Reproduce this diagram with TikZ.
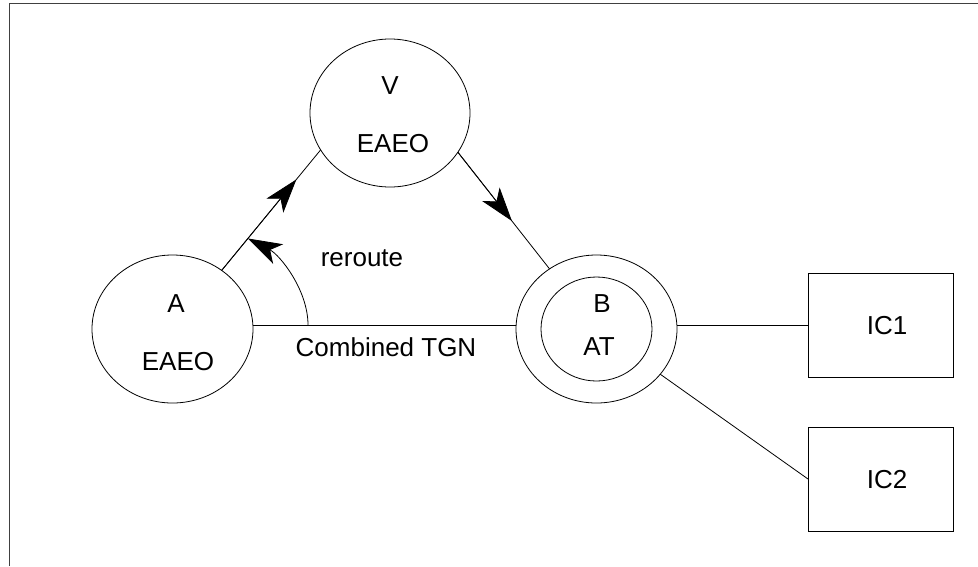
\documentclass[tikz,border=0pt]{standalone}
\usepackage{fontspec}
\setmainfont{Liberation Sans}
\usetikzlibrary{shapes.geometric,arrows.meta,calc}
\begin{document}
\begin{tikzpicture}[x=1pt,y=-1pt,
  ell/.style={draw,ellipse,inner sep=0pt,outer sep=0pt,line width=0.8pt},
  icbox/.style={draw,rectangle,inner sep=0pt,outer sep=0pt,minimum width=145pt,minimum height=104pt,line width=0.8pt},
  lbl/.style={inner sep=0pt,outer sep=0pt,anchor=base,font=\fontsize{26}{30}\selectfont},
  conn/.style={line width=0.8pt},
  head/.style={-{Stealth[length=34pt,width=22pt,inset=9pt]}},
]
\useasboundingbox (0,0) rectangle (978,566);
\draw[line width=1.3pt,gray!50!black] (9.5,566) -- (9.5,3.5) -- (978,3.5);

\node[ell,minimum width=161pt,minimum height=148pt] (A) at (172.5,329) {};
\node[ell,minimum width=160pt,minimum height=148pt] (V) at (390,113) {};
\node[ell,minimum width=161pt,minimum height=148pt] (B) at (596.5,329) {};
\node[ell,minimum width=111pt,minimum height=104pt] (Bin) at (596.5,329) {};
\node[icbox] (IC1) at (880.5,325) {};
\node[icbox] (IC2) at (880.5,479) {};

\node[lbl] (Aname) at (176,312.7) {A};
\node[lbl] (Atype) at (178,370.7) {EAEO};
\node[lbl] (Vname) at (390,94) {V};
\node[lbl] (Vtype) at (393,152.7) {EAEO};
\node[lbl] (Bname) at (602,312.7) {B};
\node[lbl] (Btype) at (599,355.7) {AT};
\node[lbl] (IC1t) at (887,334) {IC1};
\node[lbl] (IC2t) at (887,488) {IC2};
\node[lbl] (tgn) at (386,356.7) {Combined TGN};
\node[lbl] (rr) at (362,266) {reroute};

\draw[conn] ([yshift=4pt]A.east) -- ([yshift=4pt]B.west);
\coordinate (r0) at (308,325);
\draw[conn] (A.50) -- (V.208);
\draw[conn,head] (A.50) -- ($(A.50)!0.755!(V.208)$);
\draw[conn] (V.330) -- (B.128);
\draw[conn,head] (V.330) -- ($(V.330)!0.59!(B.128)$);
\coordinate (rtip) at ($(A.50)!0.265!(V.208)$);
\draw[conn,head] (r0) .. controls (308,290) and (280,255) .. (rtip);
\draw[conn] (B.east |- IC1.west) -- (IC1.west);
\draw[conn] (B) -- (IC2.west);
\end{tikzpicture}
\end{document}
